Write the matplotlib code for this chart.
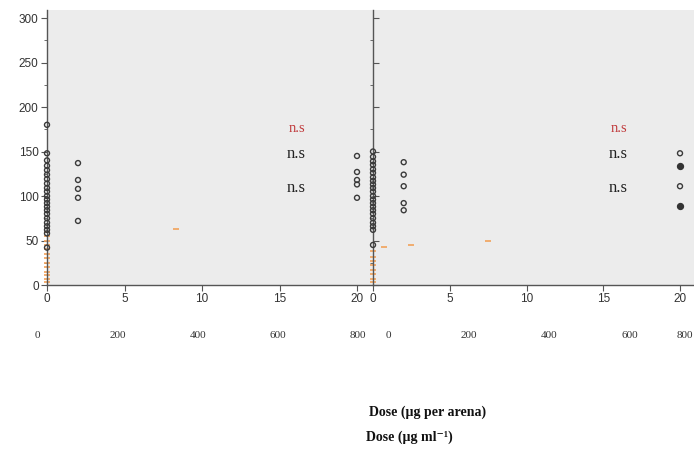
import matplotlib.pyplot as plt

# dose in ug per arena
dose_levels = [0, 2, 20]
ml_ticks = [0, 200, 400, 600, 800]

# left panel
left_x0 = [180, 148, 140, 134, 129, 124, 119, 114, 109, 105, 100, 96, 92, 88, 84, 80, 75, 70, 66, 62, 58, 42]
left_x2 = [137, 118, 108, 98, 72]
left_x20 = [145, 127, 118, 113, 98]
left_orange_x = [0, 0, 0, 0, 0, 0, 0, 0, 0, 0, 0, 0, 0, 8.3]
left_orange_y = [3, 7, 11, 15, 20, 25, 30, 35, 40, 45, 50, 55, 60, 63]

# right panel
right_x0 = [150, 144, 139, 135, 130, 126, 121, 117, 113, 109, 105, 100, 96, 92, 88, 84, 80, 75, 70, 66, 62, 45]
right_x2 = [138, 124, 111, 92, 84]
right_x20_open = [148, 111]
right_x20_fill = [134, 89]
right_orange_x = [0, 0, 0, 0, 0, 0, 0, 0, 0.7, 2.5, 7.5]
right_orange_y = [3, 7, 12, 17, 22, 27, 32, 38, 43, 45, 49]

ns_y = [176, 147, 109]
ns_colors = ["#c0393b", "#222222", "#222222"]

bg = "#ececec"
serif = ["Liberation Serif", "DejaVu Serif"]
plt.rcParams['font.family'] = ['Liberation Sans', 'DejaVu Sans']

fig = plt.figure(figsize=(6.94, 4.67), dpi=100)
ax1 = fig.add_axes([47/694, 182/467, (373-47)/694, 275/467])
ax2 = fig.add_axes([373/694, 182/467, (694-373)/694, 275/467])


def style(ax, ylabels):
    ax.set_facecolor(bg)
    ax.set_ylim(0, 309)
    for s in ["top", "right"]:
        ax.spines[s].set_visible(False)
    for s in ["left", "bottom"]:
        ax.spines[s].set_color("#555555")
        ax.spines[s].set_linewidth(1.0)
    ax.set_yticks([0, 50, 100, 150, 200, 250, 300])
    ax.set_yticks([25, 75, 125, 175, 225, 275], minor=True)
    ax.set_xticks([0, 5, 10, 15, 20])
    ax.tick_params(axis="both", colors="#555555", labelcolor="#333333", labelsize=8.5,
                   length=4, width=0.8, pad=2)
    ax.tick_params(axis="y", which="minor", length=2, colors="#555555")
    if not ylabels:
        ax.set_yticklabels([])
        ax.tick_params(axis="y", direction="in")


style(ax1, True)
style(ax2, False)
ax1.set_xlim(0, (373-47)/15.5)
ax2.set_xlim(0, (694-373)/15.35)

orange = "#f2a25a"
circ = dict(s=13, facecolors="none", edgecolors="#3a3a3a", linewidths=1.0, zorder=3, clip_on=False)

# left
ax1.scatter(left_orange_x, left_orange_y, marker="_", s=14, color=orange, linewidths=1.2, zorder=2, clip_on=False)
ax1.scatter([dose_levels[0]] * len(left_x0), left_x0, **circ)
ax1.scatter([dose_levels[1]] * len(left_x2), left_x2, **circ)
ax1.scatter([dose_levels[2]] * len(left_x20), left_x20, **circ)

# right
ax2.scatter(right_orange_x, right_orange_y, marker="_", s=14, color=orange, linewidths=1.2, zorder=2, clip_on=False)
ax2.scatter([dose_levels[0]] * len(right_x0), right_x0, **circ)
ax2.scatter([dose_levels[1]] * len(right_x2), right_x2, **circ)
ax2.scatter([dose_levels[2]] * len(right_x20_open), right_x20_open, **circ)
ax2.scatter([dose_levels[2]] * len(right_x20_fill), right_x20_fill, s=18, color="#333333", zorder=3, clip_on=False)

for ax, xpos in [(ax1, 16.1), (ax2, 16.0)]:
    for i, (y, c) in enumerate(zip(ns_y, ns_colors)):
        ax.text(xpos, y, "n.s", color=c, fontsize=10.5 if i == 0 else 12,
                family=serif, ha="center", va="center")

# second scale (ug per ml) under each panel
for ax, start, step in [(ax1, -0.6, 5.17), (ax2, 1.0, 5.25)]:
    tr = ax.get_xaxis_transform()
    for i, v in enumerate(ml_ticks):
        x = start + step * i
        if x > 20.3:
            x = 20.3
        ax.text(x, -0.185, str(v), transform=tr, ha="center", va="center",
                fontsize=8, color="#333333", family=serif)

fig.text(369/694, 1 - 412/467, "Dose (\u00b5g per arena)", fontsize=10, fontweight="bold",
         family=serif, ha="left", va="center", color="#111111")
fig.text(366/694, 1 - 437/467, "Dose (\u00b5g ml\u207b\u00b9)", fontsize=10, fontweight="bold",
         family=serif, ha="left", va="center", color="#111111")

fig.savefig("out.png", dpi=100)
